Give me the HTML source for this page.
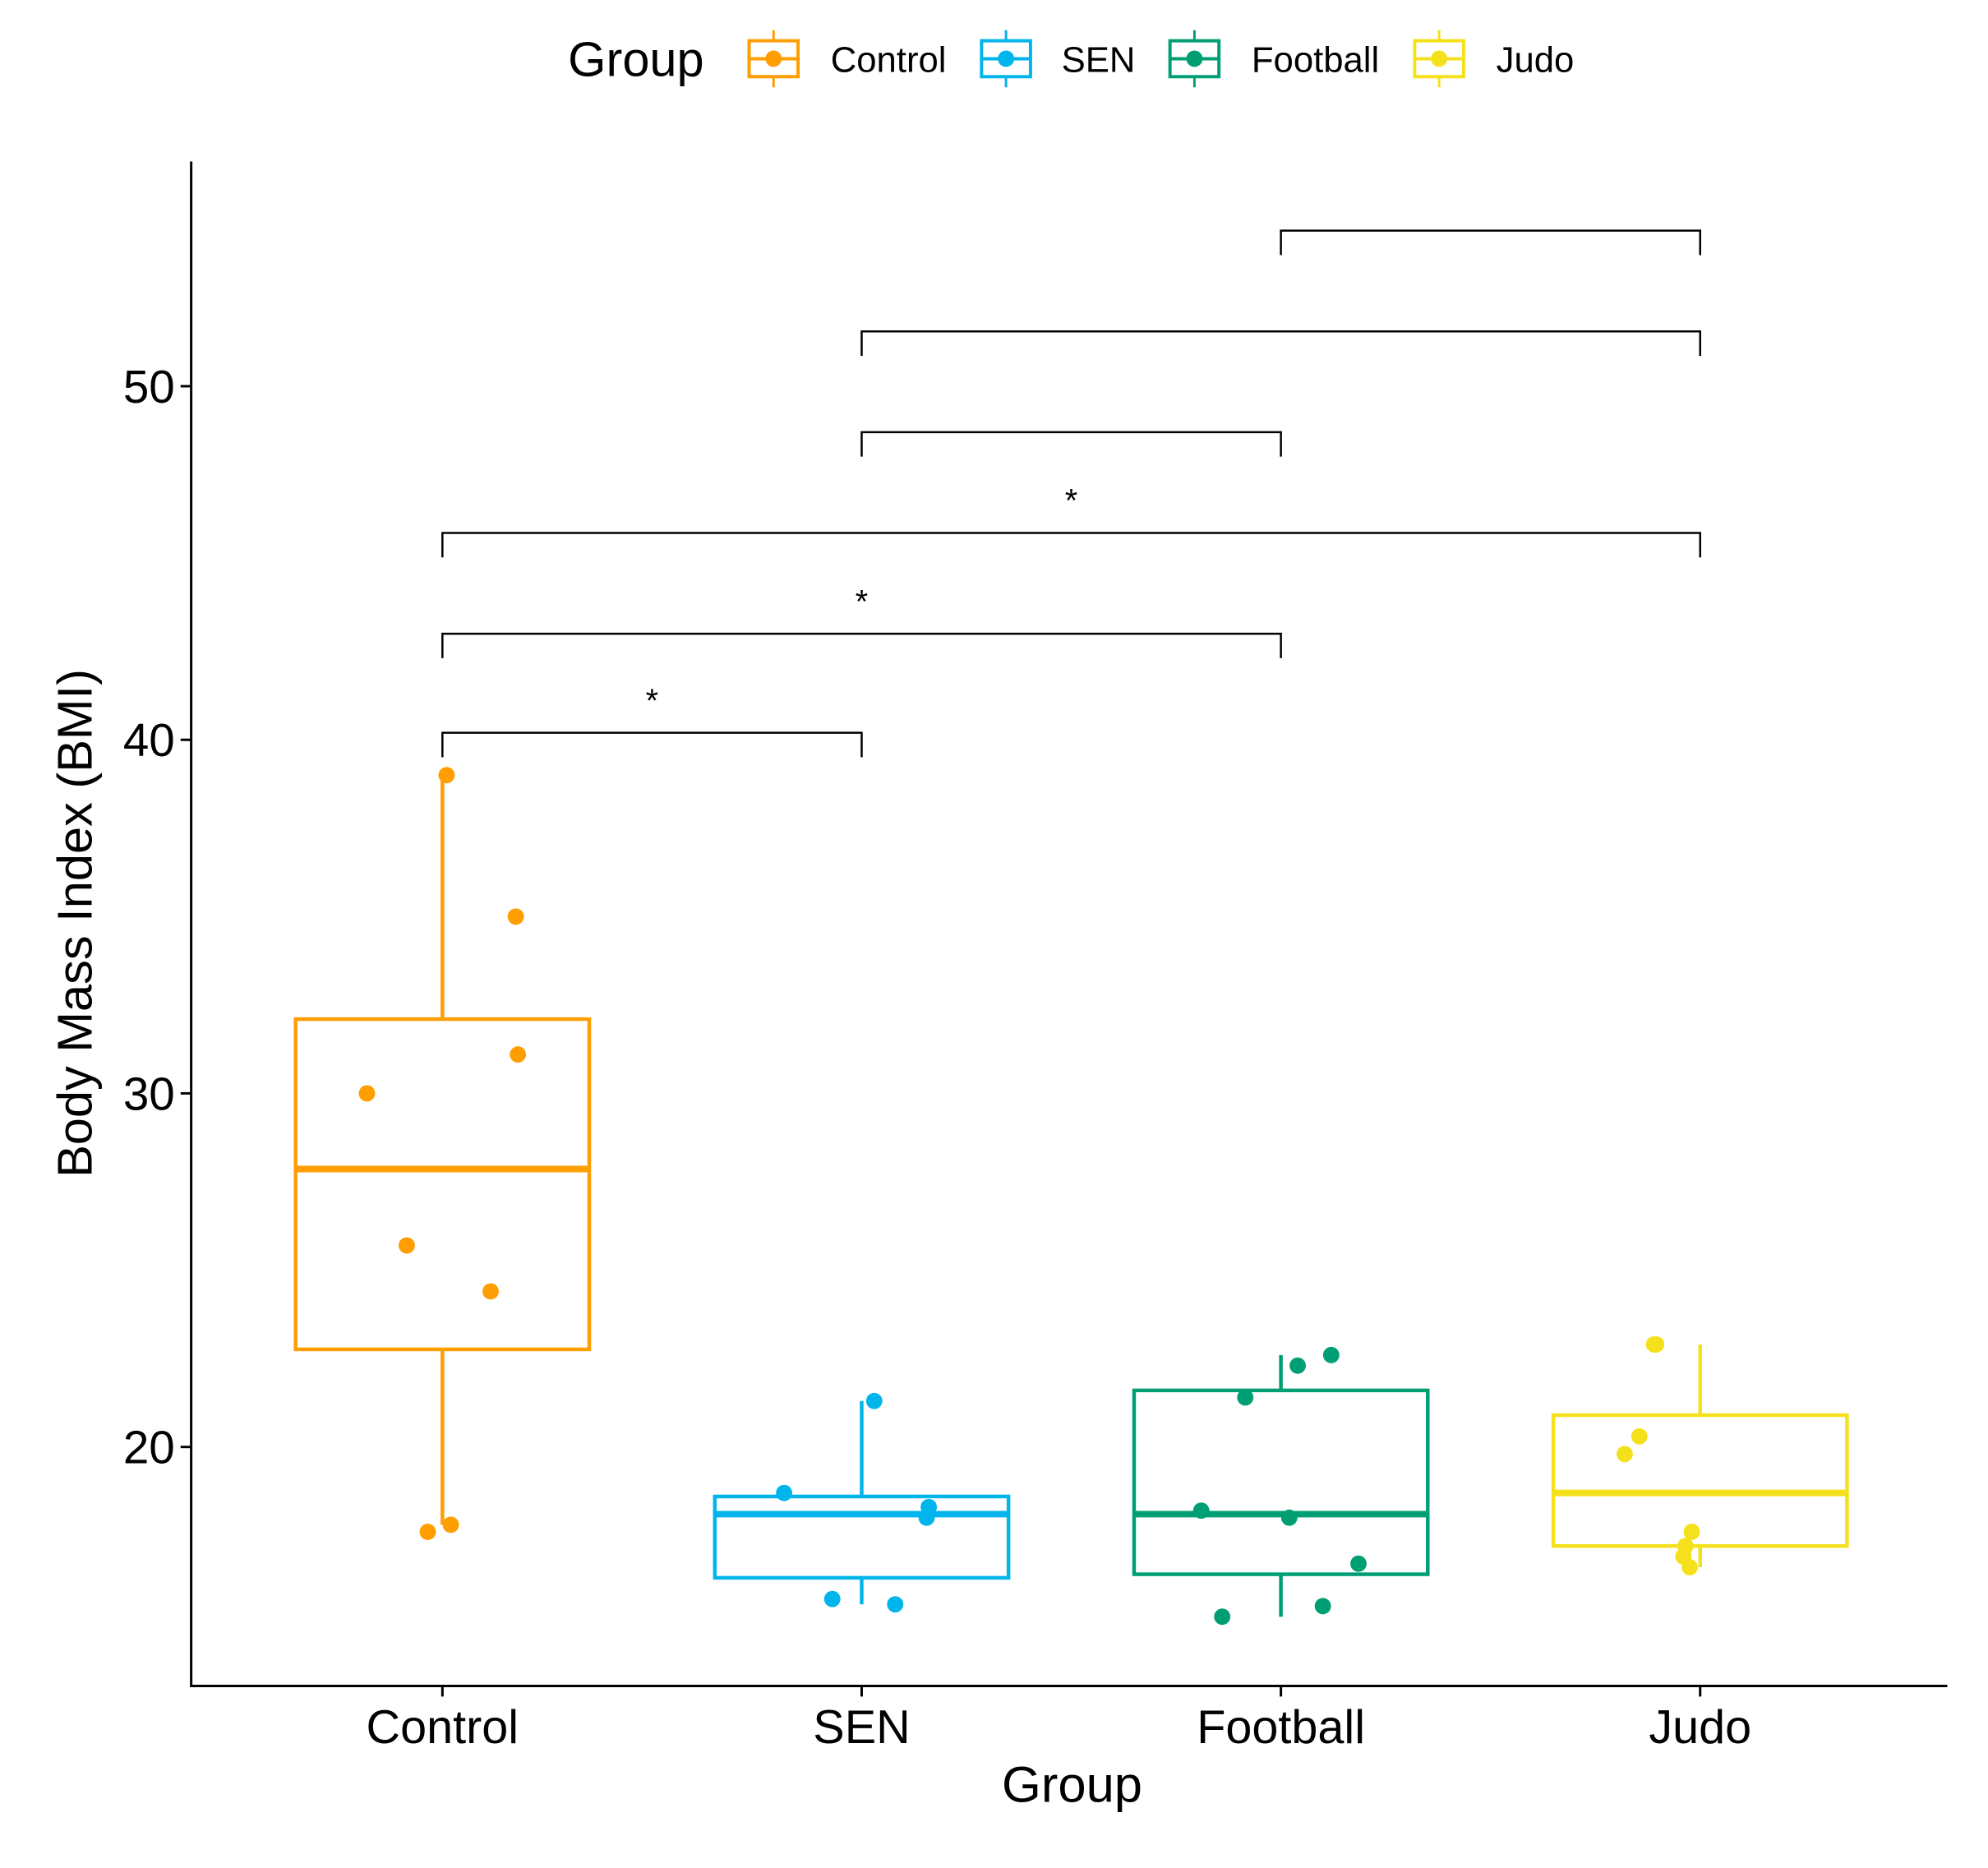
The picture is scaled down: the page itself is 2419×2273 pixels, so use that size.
<!DOCTYPE html>
<html><head><meta charset="utf-8"><style>
html,body{margin:0;padding:0;background:#fff;}
svg{display:block;font-family:"Liberation Sans",Arial,sans-serif;}
</style></head><body>
<svg id="chart" width="2419" height="2273" viewBox="0 0 2419 2273" xmlns="http://www.w3.org/2000/svg">
<rect width="2419" height="2273" fill="#fff"/>
<g transform="translate(-0.6,-1) scale(0.9925)">
<g id="legend"></g>
<g id="plot"></g>
</g>
</svg>
<script>
const categories = ["Control","SEN","Football","Judo"];
const colors = ["#FF9E00","#00B5EC","#009E73","#F5E11B"];
const q1 = [22.76, 16.3, 16.4, 17.2];
const medians = [27.86, 18.1, 18.1, 18.7];
const q3 = [32.1, 18.6, 21.6, 20.9];
const whiskLow = [17.8, 15.55, 15.2, 16.6];
const whiskHigh = [39.0, 21.3, 22.6, 22.9];
const pointsY = [
  [39.0,35.0,31.1,30.0,25.7,24.4,17.8,17.6],
  [21.3,18.7,18.3,18.0,15.7,15.55],
  [22.6,22.3,21.4,18.2,18.0,16.7,15.5,15.2],
  [22.9,22.9,20.3,19.8,17.6,17.2,16.9,16.6]
];
const pointsJitter = [
  [0.01,0.175,0.18,-0.18,-0.085,0.115,0.02,-0.035],
  [0.03,-0.185,0.16,0.155,-0.07,0.08],
  [0.12,0.04,-0.085,-0.19,0.02,0.185,0.1,-0.14],
  [-0.11,-0.105,-0.145,-0.18,-0.02,-0.035,-0.04,-0.025]
];
const yTicks = [20,30,40,50];
const comparisons = [[2,3,54.4,""],[1,3,51.55,""],[1,2,48.7,""],[0,3,45.85,"*"],[0,2,43.0,"*"],[0,1,40.2,"*"]];

const NS="http://www.w3.org/2000/svg";
const plot=document.getElementById('plot');
const legend=document.getElementById('legend');
function mk(tag,attrs,parent){const e=document.createElementNS(NS,tag);for(const k in attrs)e.setAttribute(k,attrs[k]);parent.appendChild(e);return e;}
const X0=235, XR=2388, YB=2068, YT=199;
function xs(i){return 543+i*514;}
function ys(v){return 1775-(v-20)*43.35;}
const HW=180;

categories.forEach((c,i)=>{
  const g=mk('g',{},plot);
  
  
  const cx=xs(i), col=colors[i];
  const w1=mk('line',{x1:cx,x2:cx,y1:ys(q3[i]),y2:ys(whiskHigh[i]),stroke:col,'stroke-width':4.5},g);
  
  
  const w2=mk('line',{x1:cx,x2:cx,y1:ys(q1[i]),y2:ys(whiskLow[i]),stroke:col,'stroke-width':4.5},g);
  
  
  const r=mk('rect',{x:cx-HW,y:ys(q3[i]),width:2*HW,height:ys(q1[i])-ys(q3[i]),fill:'none',stroke:col,'stroke-width':4.5},g);
  
  
  const m=mk('line',{x1:cx-HW,x2:cx+HW,y1:ys(medians[i]),y2:ys(medians[i]),stroke:col,'stroke-width':8},g);
  
  
  pointsY[i].forEach((v,j)=>{
    const p=mk('circle',{cx:cx+pointsJitter[i][j]*514,cy:ys(v),r:10,fill:col},g);
    
    
  });
});

comparisons.forEach(([a,b,v,lab])=>{
  const g=mk('g',{},plot);
  
  
  const y=ys(v), xa=xs(a), xb=xs(b);
  mk('path',{d:`M${xa},${y+30}V${y}H${xb}V${y+30}`,fill:'none',stroke:'#000','stroke-width':2.5},g);
  if(lab){const t=mk('text',{x:(xa+xb)/2,y:y-26,'text-anchor':'middle','font-size':40,fill:'#000'},g);t.textContent=lab;
    
    }
});

const ax=mk('path',{d:`M${X0},${YT}V${YB}H${XR}`,fill:'none',stroke:'#000','stroke-width':3},plot);


yTicks.forEach(v=>{
  mk('line',{x1:X0-13,x2:X0,y1:ys(v),y2:ys(v),stroke:'#000','stroke-width':3},plot);
  const t=mk('text',{x:X0-20,y:ys(v)+20,'text-anchor':'end','font-size':57,fill:'#000'},plot);
  t.textContent=v;
  
  
});
categories.forEach((c,i)=>{
  mk('line',{x1:xs(i),x2:xs(i),y1:YB,y2:YB+13,stroke:'#000','stroke-width':3},plot);
  const t=mk('text',{x:xs(i),y:2138,'text-anchor':'middle','font-size':58,fill:'#000'},plot);
  t.textContent=c;
  
  
});
const xt=mk('text',{x:1315,y:2210,'text-anchor':'middle','font-size':62,fill:'#000'},plot);
xt.textContent='Group';


const yt=mk('text',{x:0,y:0,'text-anchor':'middle','font-size':60,fill:'#000',transform:'translate(113,1133) rotate(-90)'},plot);
yt.textContent='Body Mass Index (BMI)';



const lt=mk('text',{x:697,y:94,'font-size':60,fill:'#000'},legend);
lt.textContent='Group';


const keyX=[949,1234,1465,1765];
const labX=[1019,1302,1535,1835];
categories.forEach((c,i)=>{
  const g=mk('g',{},legend);
  
  
  const cx=keyX[i], cy=73, col=colors[i];
  mk('line',{x1:cx,x2:cx,y1:cy-35,y2:cy+35,stroke:col,'stroke-width':3},g);
  mk('rect',{x:cx-30,y:cy-22,width:60,height:44,fill:'#fff',stroke:col,'stroke-width':4},g);
  mk('line',{x1:cx-30,x2:cx+30,y1:cy,y2:cy,stroke:col,'stroke-width':4},g);
  mk('circle',{cx:cx,cy:cy,r:10,fill:col},g);
  const t=mk('text',{x:labX[i],y:cy+16,'font-size':44,fill:'#000'},g);
  t.textContent=c;
});
</script>
</body></html>
